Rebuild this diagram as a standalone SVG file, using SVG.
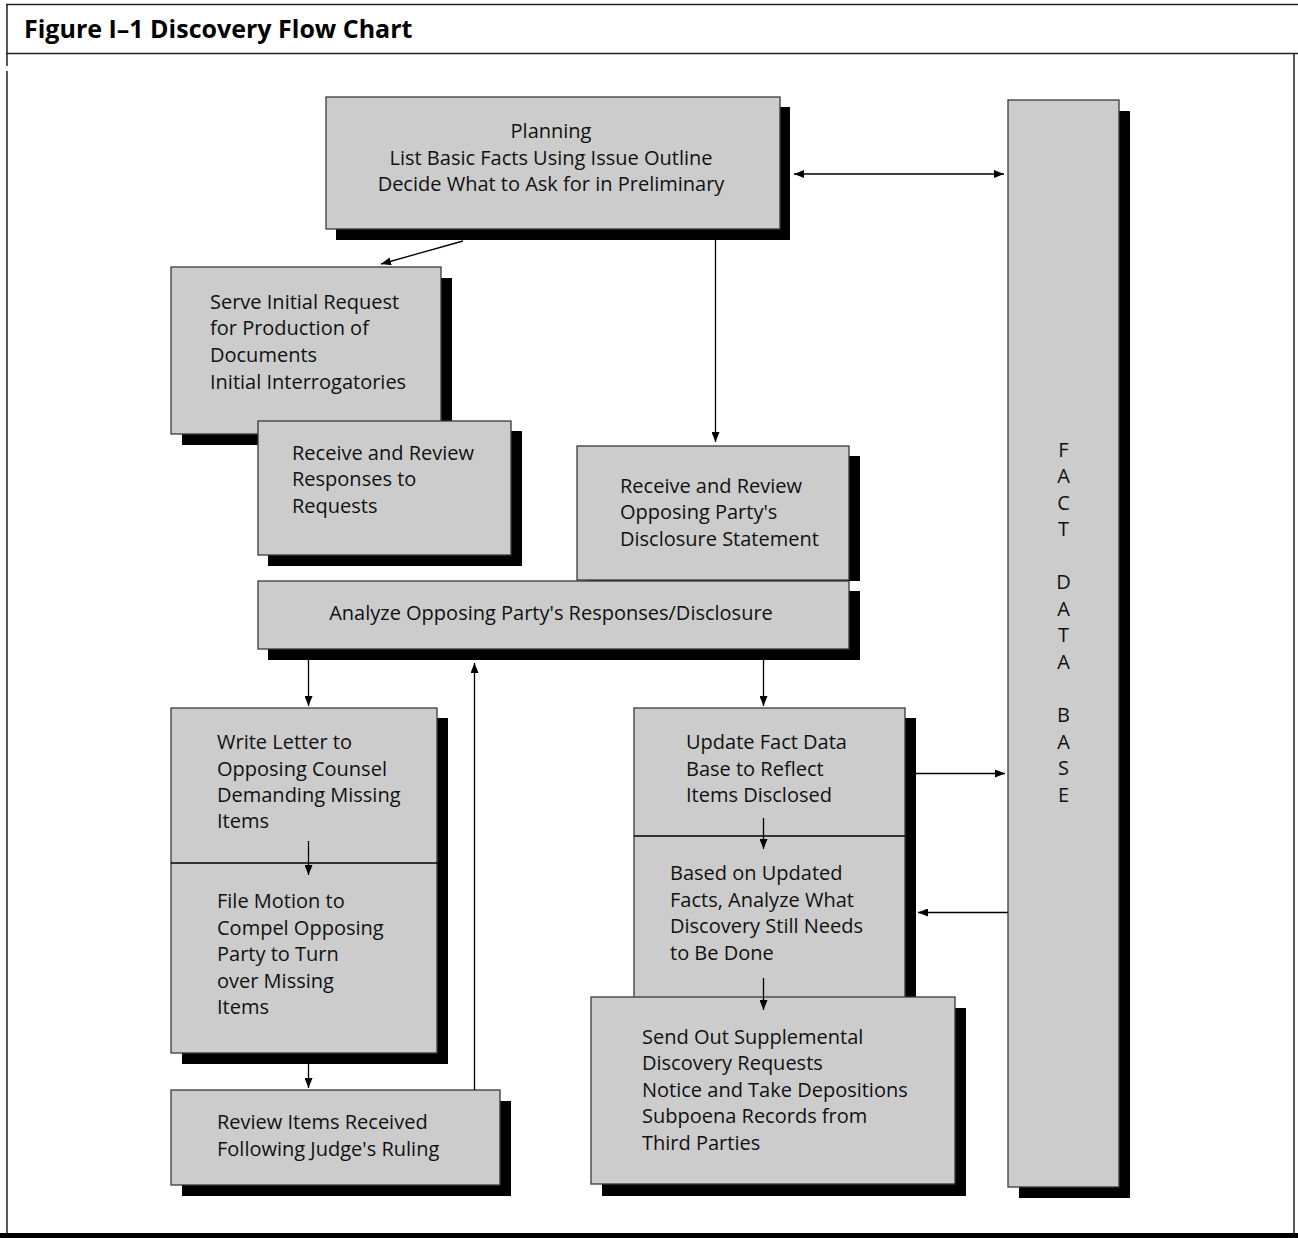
<svg xmlns="http://www.w3.org/2000/svg" width="1298" height="1238" viewBox="0 0 1298 1238">
<style>
.box{fill:#cccccc;stroke:#3a3a3a;stroke-width:1.3}
.sh{fill:#000}
.t{font-family:"Open Sans","Liberation Sans",sans-serif;font-size:20px;fill:#111}
.c{text-anchor:middle}
.ttl{font-family:"Open Sans","Liberation Sans",sans-serif;font-size:25px;font-weight:bold;fill:#000}
.ln{stroke:#000;stroke-width:1.3;fill:none}
.fr{stroke:#222;stroke-width:1.5;fill:none}
</style>
<defs>
<marker id="ah" viewBox="0 0 10 8" refX="10" refY="4" markerWidth="10" markerHeight="8" markerUnits="userSpaceOnUse" orient="auto-start-reverse">
<path d="M0,0 L10,4 L0,8 z" fill="#000"/>
</marker>
</defs>
<rect width="1298" height="1238" fill="#fff"/>
<g id="frame">
<line class="fr" x1="6" y1="4.5" x2="1298" y2="4.5"/>
<line class="fr" x1="6" y1="53.5" x2="1298" y2="53.5"/>
<line class="fr" x1="7" y1="4" x2="7" y2="66"/>
<line class="fr" x1="7" y1="71" x2="7" y2="1236"/>
<line class="fr" x1="1294" y1="53" x2="1294" y2="1236"/>
<rect x="0" y="1233" width="1298" height="5" fill="#000"/>
<text class="ttl" x="24" y="38">Figure I–1 Discovery Flow Chart</text>
</g>
<g id="n-planning">
<rect class="sh" x="336" y="107" width="454" height="133"/>
<rect class="box" x="326" y="97" width="454" height="132"/>
<text class="t c" x="551" y="138">Planning</text>
<text class="t c" x="551" y="165">List Basic Facts Using Issue Outline</text>
<text class="t c" x="551" y="191">Decide What to Ask for in Preliminary</text>
</g>
<g id="n-serve">
<rect class="sh" x="182" y="278" width="270" height="167"/>
<rect class="box" x="171" y="267" width="270" height="167"/>
<text class="t" x="210" y="309">Serve Initial Request</text>
<text class="t" x="210" y="335">for Production of</text>
<text class="t" x="210" y="362">Documents</text>
<text class="t" x="210" y="389">Initial Interrogatories</text>
</g>
<g id="n-receive-responses">
<rect class="sh" x="268" y="431" width="254" height="135"/>
<rect class="box" x="258" y="421" width="253" height="134"/>
<text class="t" x="292" y="460">Receive and Review</text>
<text class="t" x="292" y="486">Responses to</text>
<text class="t" x="292" y="513">Requests</text>
</g>
<g id="n-receive-disclosure">
<rect class="sh" x="587" y="456" width="273" height="125"/>
<rect class="box" x="577" y="446" width="272" height="134"/>
<text class="t" x="620" y="493">Receive and Review</text>
<text class="t" x="620" y="519">Opposing Party's</text>
<text class="t" x="620" y="546">Disclosure Statement</text>
</g>
<g id="n-analyze">
<rect class="sh" x="268" y="591" width="592" height="69"/>
<rect class="box" x="258" y="581" width="591" height="68"/>
<text class="t c" x="551" y="620">Analyze Opposing Party's Responses/Disclosure</text>
</g>
<g id="n-letter-motion">
<rect class="sh" x="182" y="718" width="266" height="346"/>
<rect class="box" x="171" y="708" width="266" height="345"/>
<line class="ln" x1="171" y1="863" x2="437" y2="863"/>
<text class="t" x="217" y="749">Write Letter to</text>
<text class="t" x="217" y="776">Opposing Counsel</text>
<text class="t" x="217" y="802">Demanding Missing</text>
<text class="t" x="217" y="828">Items</text>
<text class="t" x="217" y="908">File Motion to</text>
<text class="t" x="217" y="935">Compel Opposing</text>
<text class="t" x="217" y="961">Party to Turn</text>
<text class="t" x="217" y="988">over Missing</text>
<text class="t" x="217" y="1014">Items</text>
</g>
<g id="n-review">
<rect class="sh" x="182" y="1101" width="329" height="95"/>
<rect class="box" x="171" y="1090" width="329" height="95"/>
<text class="t" x="217" y="1129">Review Items Received</text>
<text class="t" x="217" y="1156">Following Judge's Ruling</text>
</g>
<g id="n-update-based">
<rect class="sh" x="644" y="718" width="272" height="290"/>
<rect class="box" x="634" y="708" width="271" height="290"/>
<line class="ln" x1="634" y1="836" x2="905" y2="836"/>
<text class="t" x="686" y="749">Update Fact Data</text>
<text class="t" x="686" y="776">Base to Reflect</text>
<text class="t" x="686" y="802">Items Disclosed</text>
<text class="t" x="670" y="880">Based on Updated</text>
<text class="t" x="670" y="907">Facts, Analyze What</text>
<text class="t" x="670" y="933">Discovery Still Needs</text>
<text class="t" x="670" y="960">to Be Done</text>
</g>
<g id="n-send">
<rect class="sh" x="602" y="1008" width="364" height="188"/>
<rect class="box" x="591" y="997" width="364" height="187"/>
<text class="t" x="642" y="1044">Send Out Supplemental</text>
<text class="t" x="642" y="1070">Discovery Requests</text>
<text class="t" x="642" y="1097">Notice and Take Depositions</text>
<text class="t" x="642" y="1123">Subpoena Records from</text>
<text class="t" x="642" y="1150">Third Parties</text>
</g>
<g id="n-fact-db">
<rect class="sh" x="1019" y="111" width="111" height="1087"/>
<rect class="box" x="1008" y="100" width="111" height="1087"/>
<text class="t c" x="1063.5" y="457">F</text>
<text class="t c" x="1063.5" y="483">A</text>
<text class="t c" x="1063.5" y="510">C</text>
<text class="t c" x="1063.5" y="536">T</text>
<text class="t c" x="1063.5" y="589">D</text>
<text class="t c" x="1063.5" y="616">A</text>
<text class="t c" x="1063.5" y="642">T</text>
<text class="t c" x="1063.5" y="669">A</text>
<text class="t c" x="1063.5" y="722">B</text>
<text class="t c" x="1063.5" y="749">A</text>
<text class="t c" x="1063.5" y="775">S</text>
<text class="t c" x="1063.5" y="802">E</text>
</g>
<g id="connectors">
<line class="ln" x1="463" y1="241" x2="381" y2="264" marker-end="url(#ah)"/>
<line class="ln" x1="794" y1="174" x2="1004" y2="174" marker-start="url(#ah)" marker-end="url(#ah)"/>
<line class="ln" x1="715.5" y1="240" x2="715.5" y2="442" marker-end="url(#ah)"/>
<line class="ln" x1="308.5" y1="660" x2="308.5" y2="706" marker-end="url(#ah)"/>
<line class="ln" x1="474.5" y1="1090" x2="474.5" y2="663" marker-end="url(#ah)"/>
<line class="ln" x1="763.5" y1="660" x2="763.5" y2="706" marker-end="url(#ah)"/>
<line class="ln" x1="916" y1="773.5" x2="1005" y2="773.5" marker-end="url(#ah)"/>
<line class="ln" x1="1008" y1="912.5" x2="918" y2="912.5" marker-end="url(#ah)"/>
<line class="ln" x1="308.5" y1="841" x2="308.5" y2="875" marker-end="url(#ah)"/>
<line class="ln" x1="308.5" y1="1064" x2="308.5" y2="1088" marker-end="url(#ah)"/>
<line class="ln" x1="763.5" y1="818" x2="763.5" y2="849" marker-end="url(#ah)"/>
<line class="ln" x1="763.5" y1="978" x2="763.5" y2="1010" marker-end="url(#ah)"/>
</g>
</svg>
